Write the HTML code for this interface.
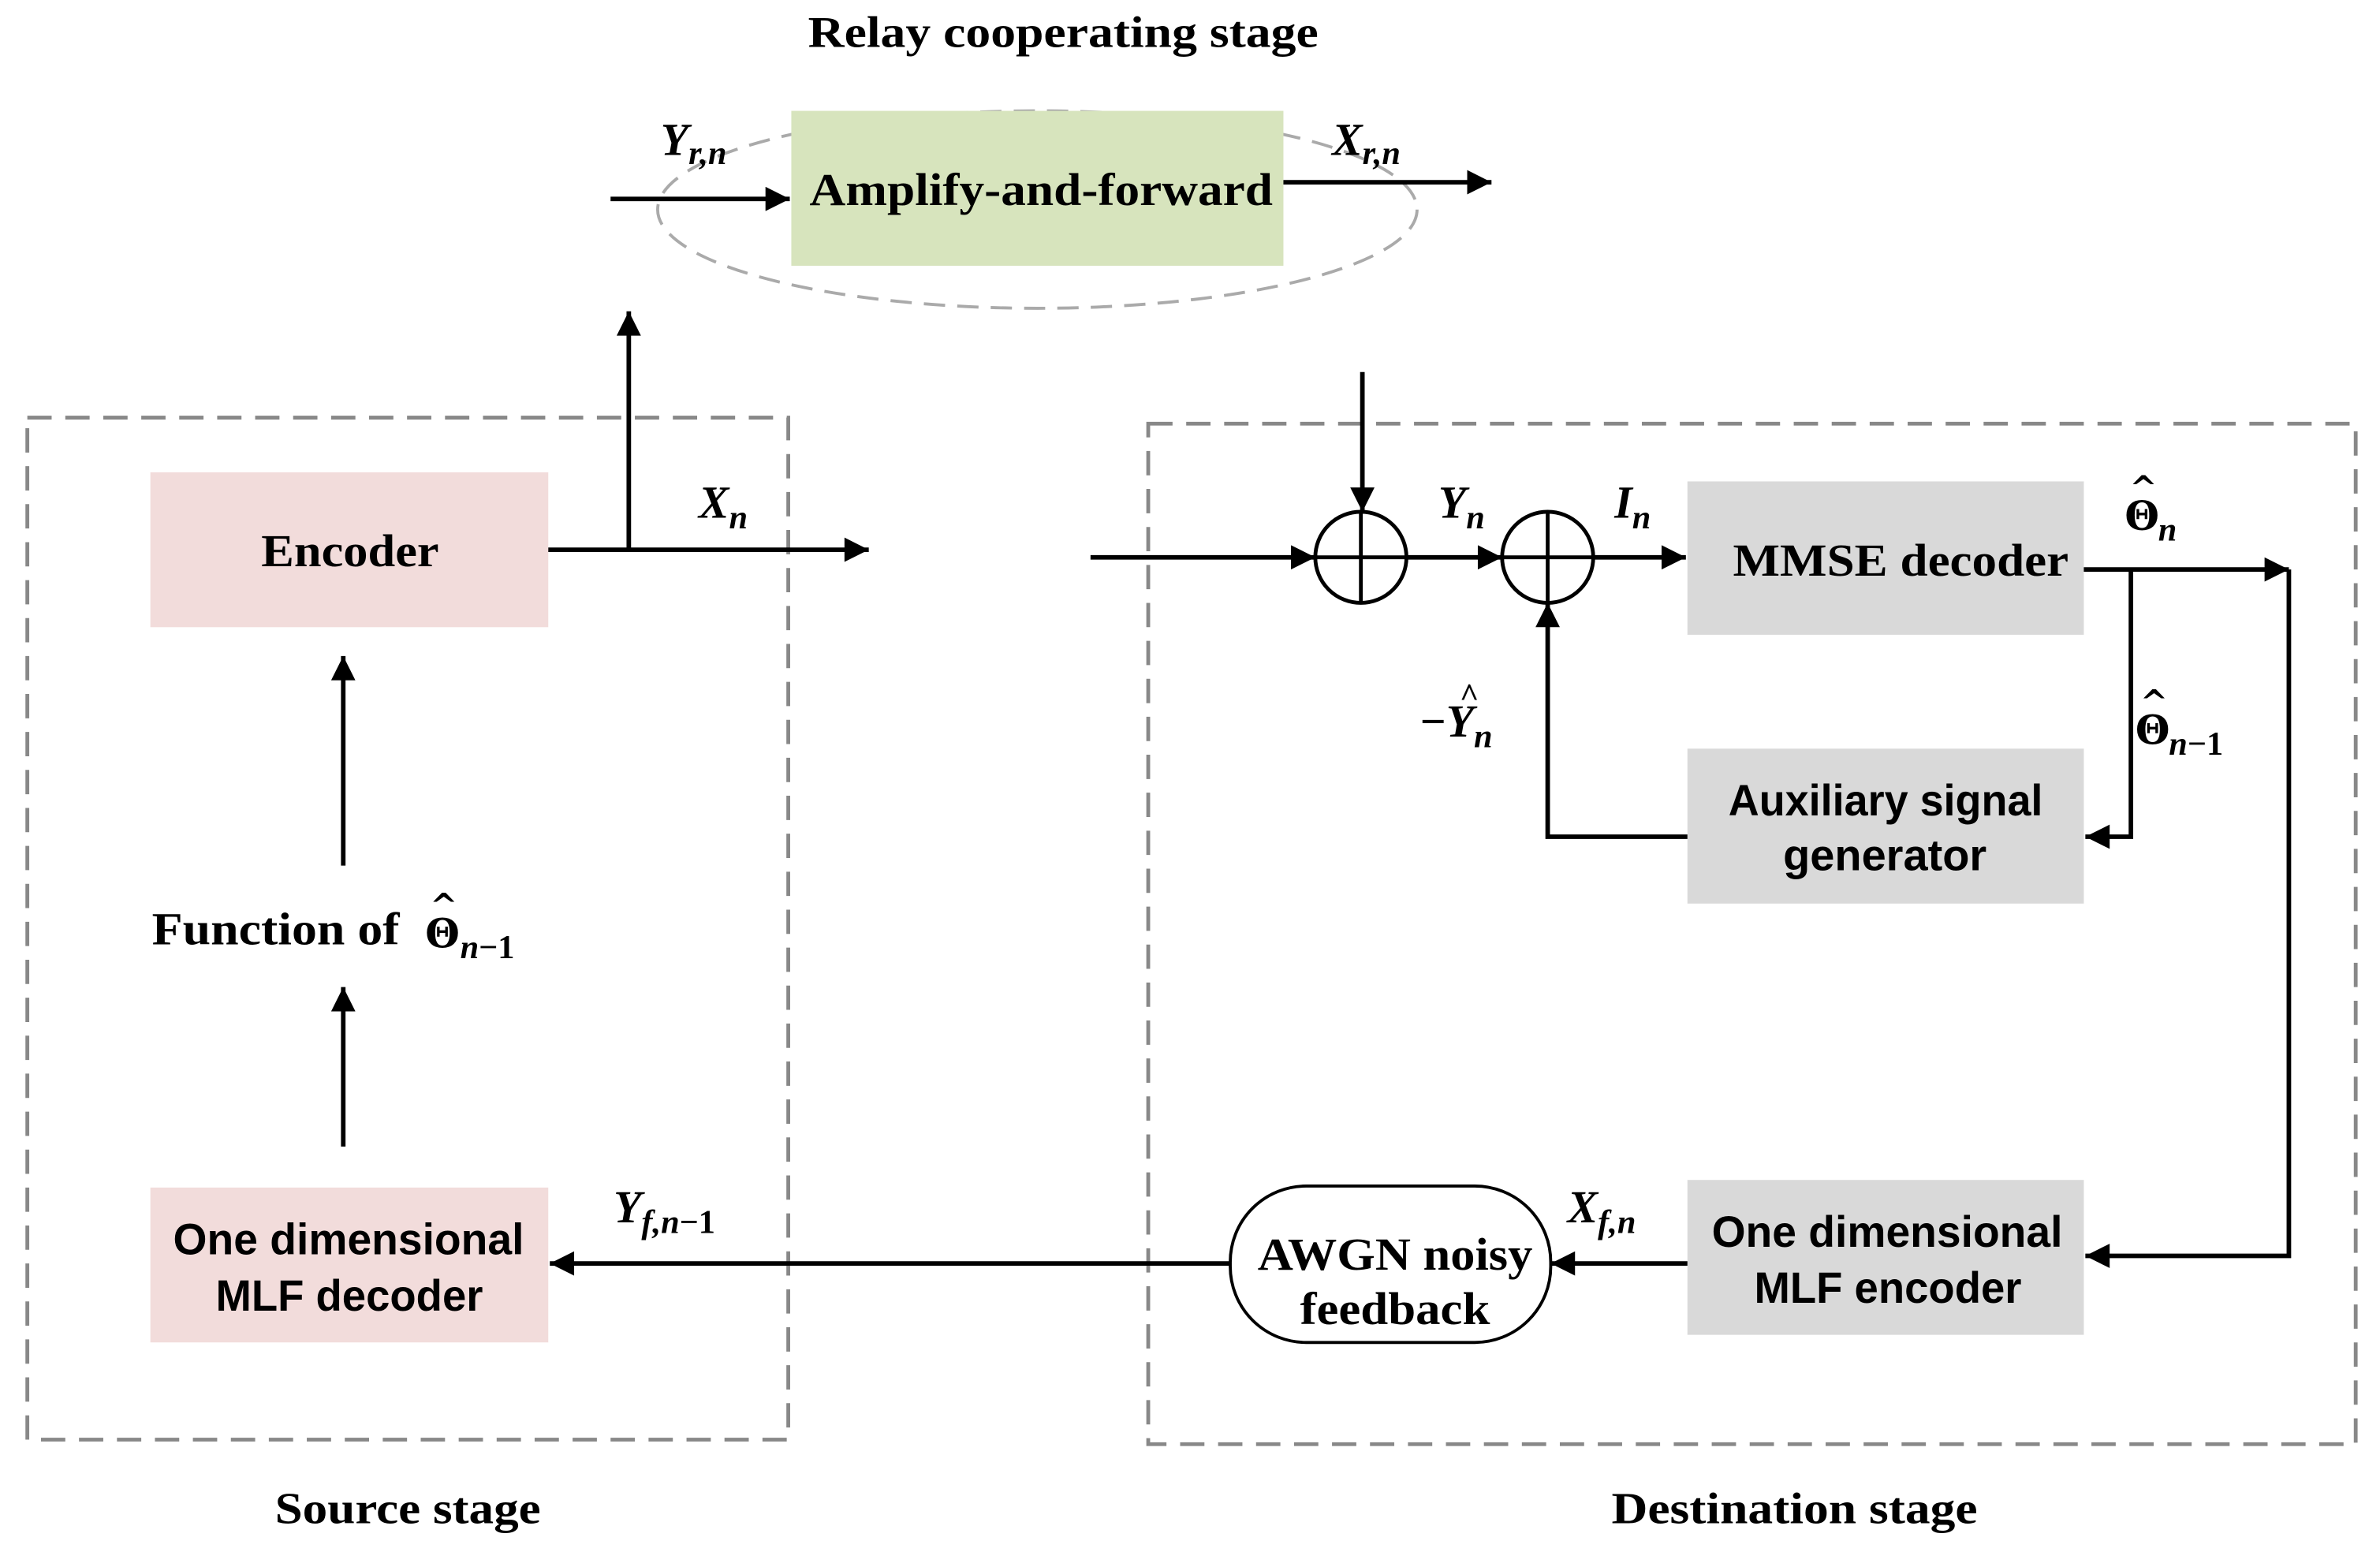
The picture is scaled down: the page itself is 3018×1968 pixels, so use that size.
<!DOCTYPE html>
<html><head><meta charset="utf-8"><style>html,body{margin:0;padding:0;background:#fff}svg{display:block}</style></head>
<body>
<svg width="3018" height="1968" viewBox="0 0 1567 1022" preserveAspectRatio="none" xmlns="http://www.w3.org/2000/svg">
<defs>
<marker id="b" viewBox="0 0 10 10" refX="10" refY="5" markerWidth="24" markerHeight="16" markerUnits="userSpaceOnUse" orient="auto"><path d="M0,0L10,5L0,10z" fill="#000"/></marker></defs>
<g font-family="Liberation Serif, serif" font-weight="bold">
<text x="532" y="31" font-size="29" textLength="336" lengthAdjust="spacingAndGlyphs">Relay cooperating stage</text>
<text x="181" y="1003" font-size="29" textLength="175" lengthAdjust="spacingAndGlyphs">Source stage</text>
<text x="1061" y="1003" font-size="29" textLength="241" lengthAdjust="spacingAndGlyphs">Destination stage</text>
</g>
<ellipse cx="683" cy="138" rx="250" ry="65" fill="none" stroke="#aaa" stroke-width="2" stroke-dasharray="14,8"/>
<rect x="18" y="275" width="501" height="673" fill="none" stroke="#888" stroke-width="2.5" stroke-dasharray="16,9"/>
<rect x="756" y="279" width="795" height="672" fill="none" stroke="#888" stroke-width="2.5" stroke-dasharray="16,9"/>
<rect x="521" y="73" width="324" height="102" fill="#d7e4bd"/>
<rect x="99" y="311" width="262" height="102" fill="#f2dcdb"/>
<rect x="99" y="782" width="262" height="102" fill="#f2dcdb"/>
<rect x="1111" y="317" width="261" height="101" fill="#d9d9d9"/>
<rect x="1111" y="493" width="261" height="102" fill="#d9d9d9"/>
<rect x="1111" y="777" width="261" height="102" fill="#d9d9d9"/>
<rect x="810" y="781" width="211" height="103" rx="50" fill="#fff" stroke="#000" stroke-width="2"/>
<circle cx="896" cy="367" r="30" fill="none" stroke="#000" stroke-width="2.5"/>
<line x1="866" y1="367" x2="926" y2="367" stroke="#000" stroke-width="2.5"/><line x1="896" y1="337" x2="896" y2="397" stroke="#000" stroke-width="2.5"/>
<circle cx="1019" cy="367" r="30" fill="none" stroke="#000" stroke-width="2.5"/>
<line x1="989" y1="367" x2="1049" y2="367" stroke="#000" stroke-width="2.5"/><line x1="1019" y1="337" x2="1019" y2="397" stroke="#000" stroke-width="2.5"/>
<g stroke="#000" stroke-width="3" fill="none">
<line x1="402" y1="131" x2="520" y2="131" marker-end="url(#b)"/>
<line x1="845" y1="120" x2="982" y2="120" marker-end="url(#b)"/>
<line x1="361" y1="362" x2="572" y2="362" marker-end="url(#b)"/>
<line x1="414" y1="362" x2="414" y2="205" marker-end="url(#b)"/>
<line x1="226" y1="570" x2="226" y2="432" marker-end="url(#b)"/>
<line x1="226" y1="755" x2="226" y2="650" marker-end="url(#b)"/>
<line x1="897" y1="245" x2="897" y2="337" marker-end="url(#b)"/>
<line x1="718" y1="367" x2="866" y2="367" marker-end="url(#b)"/>
<line x1="926" y1="367" x2="989" y2="367" marker-end="url(#b)"/>
<line x1="1049" y1="367" x2="1110" y2="367" marker-end="url(#b)"/>
<line x1="1372" y1="375" x2="1507" y2="375" marker-end="url(#b)"/>
<polyline points="1507,375 1507,827 1373,827" marker-end="url(#b)"/>
<polyline points="1403,375 1403,551 1373,551" marker-end="url(#b)"/>
<polyline points="1111,551 1019,551 1019,397" marker-end="url(#b)"/>
<line x1="1111" y1="832" x2="1021" y2="832" marker-end="url(#b)"/>
<line x1="810" y1="832" x2="362" y2="832" marker-end="url(#b)"/>
</g>
<g font-family="Liberation Serif, serif" font-weight="bold" font-size="30" lengthAdjust="spacingAndGlyphs">
<text x="533" y="135" textLength="305" lengthAdjust="spacingAndGlyphs">Amplify-and-forward</text>
<text x="172" y="373" textLength="117" lengthAdjust="spacingAndGlyphs">Encoder</text>
<text x="1141" y="379" textLength="221" lengthAdjust="spacingAndGlyphs">MMSE decoder</text>
<text x="828" y="836" textLength="181" lengthAdjust="spacingAndGlyphs">AWGN noisy</text>
<text x="856" y="872" textLength="125" lengthAdjust="spacingAndGlyphs">feedback</text>
<text x="100" y="622" textLength="163" lengthAdjust="spacingAndGlyphs">Function of</text>
</g>
<g font-family="Liberation Sans, sans-serif" font-weight="bold" font-size="29">
<text x="114" y="826" textLength="231" lengthAdjust="spacingAndGlyphs">One dimensional</text>
<text x="142" y="863" textLength="176" lengthAdjust="spacingAndGlyphs">MLF decoder</text>
<text x="1138" y="537" textLength="207" lengthAdjust="spacingAndGlyphs">Auxiliary signal</text>
<text x="1174" y="573" textLength="134" lengthAdjust="spacingAndGlyphs">generator</text>
<text x="1127" y="821" textLength="231" lengthAdjust="spacingAndGlyphs">One dimensional</text>
<text x="1155" y="858" textLength="176" lengthAdjust="spacingAndGlyphs">MLF encoder</text>
</g>
<!-- Theta hats -->
<g font-family="DejaVu Serif, serif" font-weight="bold" font-size="26">
<text x="280" y="624">Θ</text><text x="283" y="604" font-size="22">^</text>
<text x="1399" y="349">Θ</text><text x="1402" y="329" font-size="22">^</text>
<text x="1406" y="490">Θ</text><text x="1409" y="470" font-size="22">^</text>
</g>
<g font-family="Liberation Serif, serif" font-weight="bold" font-size="22">
<text x="303" y="631"><tspan font-style="italic">n</tspan>−1</text>
<text x="1421" y="356" font-style="italic">n</text>
<text x="1428" y="497"><tspan font-style="italic">n</tspan>−1</text>
</g>
<g font-family="Liberation Serif, serif" font-weight="bold" font-style="italic" font-size="30">
<text x="435" y="102">Y<tspan font-size="22" dy="6">r,n</tspan></text>
<text x="877" y="102">X<tspan font-size="22" dy="6">r,n</tspan></text>
<text x="460" y="341">X<tspan font-size="22" dy="7">n</tspan></text>
<text x="947" y="341">Y<tspan font-size="22" dy="7">n</tspan></text>
<text x="1063" y="341">I<tspan font-size="22" dy="7">n</tspan></text>
<text x="935" y="485"><tspan font-style="normal">−</tspan>Y<tspan font-size="22" dy="7">n</tspan></text>
<text x="961" y="465" font-style="normal" font-size="22">^</text>
<text x="1032" y="805">X<tspan font-size="22" dy="7">f,n</tspan></text>
<text x="404" y="805">Y<tspan font-size="22" dy="7">f,n</tspan><tspan font-style="normal" font-size="22">−1</tspan></text>
</g>
</svg>
</body></html>
